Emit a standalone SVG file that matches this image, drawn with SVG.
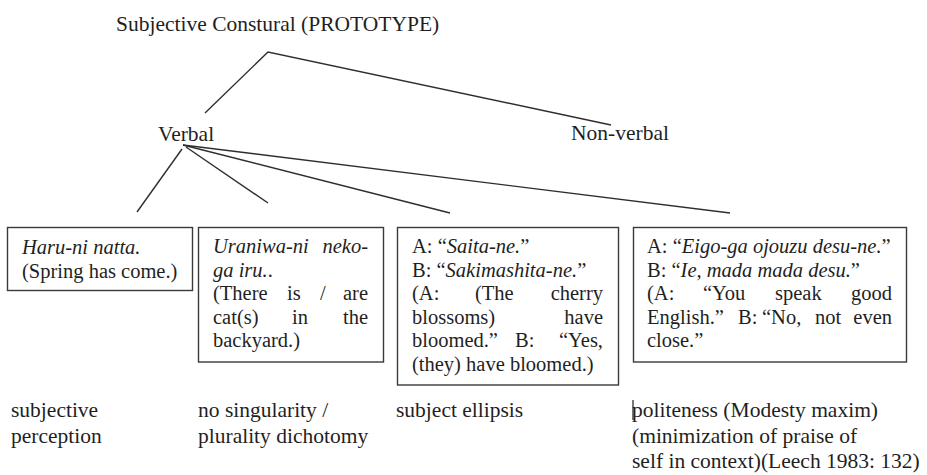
<svg xmlns="http://www.w3.org/2000/svg" width="927" height="475" viewBox="0 0 927 475">
<style>
text{font-family:"Liberation Serif","Times New Roman",serif;fill:#1f1f1f}
.lbl{font-size:21.5px}
.bx{font-size:20.5px}
.i{font-style:italic}
.e{text-anchor:end}
.box{fill:#fff;stroke:#3a3a3a;stroke-width:1.4}
.ln{stroke:#2e2e2e;stroke-width:1.4;fill:none}
</style>
<rect width="927" height="475" fill="#fff"/>
<g id="connectors">
<polyline class="ln" points="205,113 268,52 611,125"/>
<line class="ln" x1="182" y1="149" x2="137" y2="212"/>
<line class="ln" x1="186" y1="147" x2="268" y2="203"/>
<line class="ln" x1="183" y1="145" x2="450" y2="213"/>
<line class="ln" x1="183" y1="145" x2="730" y2="213"/>
</g>
<g id="title"><text class="lbl" x="116" y="31">Subjective Constural (PROTOTYPE)</text></g>
<g id="verbal"><text class="lbl" x="158" y="141">Verbal</text></g>
<g id="nonverbal"><text class="lbl" x="571" y="140">Non-verbal</text></g>
<g id="box1">
<rect class="box" x="7.5" y="227.5" width="185" height="63"/>
<text class="bx i" x="22" y="254">Haru-ni natta.</text>
<text class="bx" x="22" y="277.5">(Spring has come.)</text>
</g>
<g id="box2">
<rect class="box" x="198.5" y="227.5" width="185" height="134.5"/>
<text class="bx i" x="213" y="253">Uraniwa-ni</text>
<text class="bx i e" x="368" y="253">neko-</text>
<text class="bx" x="213" y="276.5"><tspan class="i">ga iru.</tspan>.</text>
<text class="bx" x="213" y="300">(There</text>
<text class="bx" x="287" y="300">is</text>
<text class="bx" x="320" y="300">/</text>
<text class="bx e" x="368" y="300">are</text>
<text class="bx" x="213" y="323.5">cat(s)</text>
<text class="bx" x="292" y="323.5">in</text>
<text class="bx e" x="368" y="323.5">the</text>
<text class="bx" x="213" y="347">backyard.)</text>
</g>
<g id="box3">
<rect class="box" x="397.5" y="227.5" width="221" height="157.5"/>
<text class="bx" x="412" y="253">A: “<tspan class="i">Saita-ne.</tspan>”</text>
<text class="bx" x="412" y="276.5">B: “<tspan class="i">Sakimashita-ne.</tspan>”</text>
<text class="bx" x="412" y="300">(A:</text>
<text class="bx" x="475" y="300">(The</text>
<text class="bx e" x="603" y="300">cherry</text>
<text class="bx" x="412" y="323.5">blossoms)</text>
<text class="bx e" x="603" y="323.5">have</text>
<text class="bx" x="412" y="347">bloomed.”</text>
<text class="bx" x="515" y="347">B:</text>
<text class="bx e" x="603" y="347">“Yes,</text>
<text class="bx" x="412" y="370.5">(they) have bloomed.)</text>
</g>
<g id="box4">
<rect class="box" x="633.5" y="227.5" width="273" height="134.5"/>
<text class="bx" x="647" y="253">A: “<tspan class="i">Eigo-ga ojouzu desu-ne.</tspan>”</text>
<text class="bx" x="647" y="276.5">B: “<tspan class="i">Ie, mada mada desu.</tspan>”</text>
<text class="bx" x="647" y="300">(A:</text>
<text class="bx" x="703" y="300">“You</text>
<text class="bx" x="775" y="300">speak</text>
<text class="bx e" x="892" y="300">good</text>
<text class="bx" x="647" y="323.5">English.”</text>
<text class="bx" x="738" y="323.5">B:</text>
<text class="bx" x="762" y="323.5">“No,</text>
<text class="bx" x="815" y="323.5">not</text>
<text class="bx e" x="892" y="323.5">even</text>
<text class="bx" x="647" y="347">close.”</text>
</g>
<g id="label1">
<text class="lbl" x="11" y="417">subjective</text>
<text class="lbl" x="11" y="443">perception</text>
</g>
<g id="label2">
<text class="lbl" x="198" y="417">no singularity /</text>
<text class="lbl" x="198" y="443">plurality dichotomy</text>
</g>
<g id="label3">
<text class="lbl" x="396" y="417">subject ellipsis</text>
</g>
<g id="label4">
<line x1="633" y1="400" x2="633" y2="420" stroke="#1f1f1f" stroke-width="1.2"/>
<text class="lbl" x="632" y="417">politeness (Modesty maxim)</text>
<text class="lbl" x="632" y="443">(minimization of praise of</text>
<text class="lbl" x="632" y="468">self in context)(Leech 1983: 132)</text>
</g>
</svg>
